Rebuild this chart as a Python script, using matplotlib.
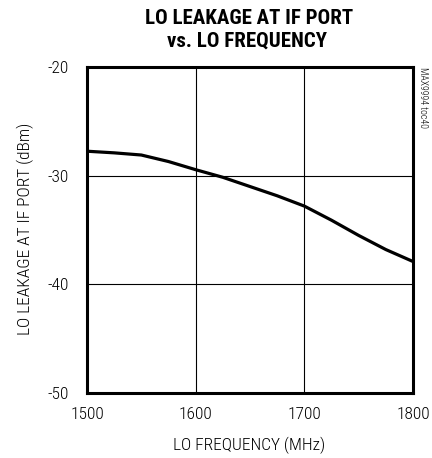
import matplotlib
matplotlib.use("Agg")
import matplotlib.pyplot as plt
import numpy as np

freq = [1500, 1525, 1550, 1575, 1600, 1625, 1650, 1675, 1700, 1725, 1750, 1775, 1800]
leak = [-27.75, -27.9, -28.1, -28.7, -29.45, -30.15, -31.0, -31.85, -32.8, -34.1, -35.5, -36.8, -37.9]
xticks = [1500, 1600, 1700, 1800]
yticks = [-50, -40, -30, -20]

plt.rcParams['font.family'] = ['Roboto Condensed', 'Liberation Sans', 'DejaVu Sans']
plt.rcParams['font.weight'] = 'light'
plt.rcParams['axes.unicode_minus'] = False

fig = plt.figure(figsize=(4.32, 4.58), dpi=100)
ax = fig.add_axes([87/432, 1-393/458, 326/432, 326/458])

ax.plot(freq, leak, color='black', lw=2.3, solid_capstyle='butt')
ax.set_xlim(1500, 1800)
ax.set_ylim(-50, -20)
ax.set_xticks(xticks)
ax.set_yticks(yticks)
ax.tick_params(axis='x', length=0, labelsize=12.5, pad=10)
ax.tick_params(axis='y', length=0, labelsize=12.5, pad=13)
ax.grid(True, color='black', lw=0.8)
for s in ax.spines.values():
    s.set_linewidth(2.2)

fig.text(249/432, 1-445/458, 'LO FREQUENCY (MHz)', ha='center', va='center', fontsize=12.5)
fig.text(25/432, 1-229/458, 'LO LEAKAGE AT IF PORT (dBm)', ha='center', va='center',
         rotation=90, fontsize=12.5)
fig.text(249/432, 1-24/458, 'LO LEAKAGE AT IF PORT', ha='center', va='baseline',
         fontsize=15, fontweight='heavy')
fig.text(247/432, 1-47/458, 'vs. LO FREQUENCY', ha='center', va='baseline',
         fontsize=15, fontweight='heavy')
fig.text(423/432, 1-67/458, 'MAX9994 toc40', rotation=270, ha='center', va='top', fontsize=7)

fig.savefig('out.png', dpi=100)
